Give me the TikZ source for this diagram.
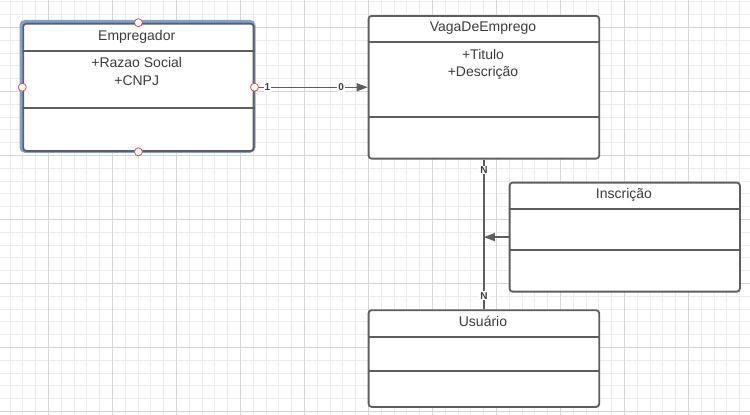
\documentclass[tikz,border=0pt]{standalone}
\usepackage{fontspec}
\setmainfont{Liberation Sans}
\usetikzlibrary{arrows.meta}
\definecolor{gridminor}{HTML}{EBEBEB}
\definecolor{gridmajor}{HTML}{D6D6D6}
\definecolor{boxgray}{HTML}{5E5E5E}
\definecolor{textgray}{HTML}{3C3C3C}
\definecolor{selblue}{HTML}{7FA3D1}
\definecolor{handlered}{HTML}{D9534F}
\tikzset{
	classbox/.style={draw=boxgray, line width=1.8pt, rounded corners=3pt, fill=white, inner sep=0pt, anchor=north west},
	divider/.style={draw=boxgray, line width=1.8pt},
	umltext/.style={text=textgray, font=\fontsize{14}{17}\selectfont, inner sep=0pt, anchor=base},
	assoc/.style={draw=boxgray, line width=1.3pt},
	mult/.style={fill=white, text=textgray, font=\fontsize{10}{10}\selectfont\bfseries, inner sep=1pt},
	handle/.style={circle, draw=handlered, fill=white, line width=0.8pt, minimum size=8pt, inner sep=0pt}
}
\begin{document}
\begin{tikzpicture}[x=1pt,y=-1pt]
					\useasboundingbox (0,0) rectangle (750,415);
					\fill[white] (0,0) rectangle (750,415);
					\foreach \x in {9.9,22.7,...,750} \draw[gridminor, line width=0.8pt] (\x,0) -- (\x,415);
					\foreach \y in {1.7,14.5,...,415} \draw[gridminor, line width=0.8pt] (0,\y) -- (750,\y);
					\foreach \x in {48.3,112.3,...,750} \draw[gridmajor, line width=0.9pt] (\x,0) -- (\x,415);
					\foreach \y in {27.3,91.3,...,415} \draw[gridmajor, line width=0.9pt] (0,\y) -- (750,\y);
					\draw[selblue, line width=3pt, rounded corners=4pt] (21,21.4) rectangle (254,151.3);
					\node[classbox, minimum width=230.4pt, minimum height=127.3pt] (emp) at (22.3,22.7) {};
					\draw[divider] (emp.west |- 0,50.7) -- (emp.east |- 0,50.7);
					\draw[divider] (emp.west |- 0,108.3) -- (emp.east |- 0,108.3);
					\node[umltext] (empTitle) at (136.7,40.7) {Empregador};
					\node[umltext] (empRazao) at (136.7,67.7) {+Razao Social};
					\node[umltext] (empCnpj) at (136.7,85) {+CNPJ};
					\node[classbox, minimum width=230.6pt, minimum height=142.7pt] (vaga) at (367.7,15) {};
					\draw[divider] (vaga.west |- 0,42.3) -- (vaga.east |- 0,42.3);
					\draw[divider] (vaga.west |- 0,117.3) -- (vaga.east |- 0,117.3);
					\node[umltext] (vagaTitle) at (483,31.7) {VagaDeEmprego};
					\node[umltext] (vagaTitulo) at (483,59.3) {+Titulo};
					\node[umltext] (vagaDescr) at (483,76.7) {+Descrição};
					\node[classbox, minimum width=230.3pt, minimum height=109pt] (insc) at (508.7,181.7) {};
					\draw[divider] (insc.west |- 0,209) -- (insc.east |- 0,209);
					\draw[divider] (insc.west |- 0,249.7) -- (insc.east |- 0,249.7);
					\node[umltext] (inscTitle) at (624,198.7) {Inscrição};
					\node[classbox, minimum width=230.6pt, minimum height=96.7pt] (usu) at (367.7,309.3) {};
					\draw[divider] (usu.west |- 0,336.7) -- (usu.east |- 0,336.7);
					\draw[divider] (usu.west |- 0,371) -- (usu.east |- 0,371);
					\node[umltext] (usuTitle) at (483,326.7) {Usuário};
					\draw[assoc, -{Triangle[length=11pt,width=8pt]}] (emp.east) -- node[mult, pos=0.113] (multEmp) {1} node[mult, pos=0.765] (multVaga) {0} (vaga.west);
					\draw[assoc] (vaga.south) -- node[mult, pos=0.07] (multVagaN) {N} node[mult, pos=0.91] (multUsuN) {N} (usu.north);
					\coordinate (meet) at (vaga.south |- insc.west);
					\draw[assoc, -{Triangle[length=11pt,width=8pt]}] (insc.west) -- (meet);
					\node[handle] (hTop) at (emp.north) {};
					\node[handle] (hLeft) at (emp.west) {};
					\node[handle] (hRight) at (emp.east) {};
					\node[handle] (hBottom) at (emp.south) {};
				\end{tikzpicture}
\end{document}
